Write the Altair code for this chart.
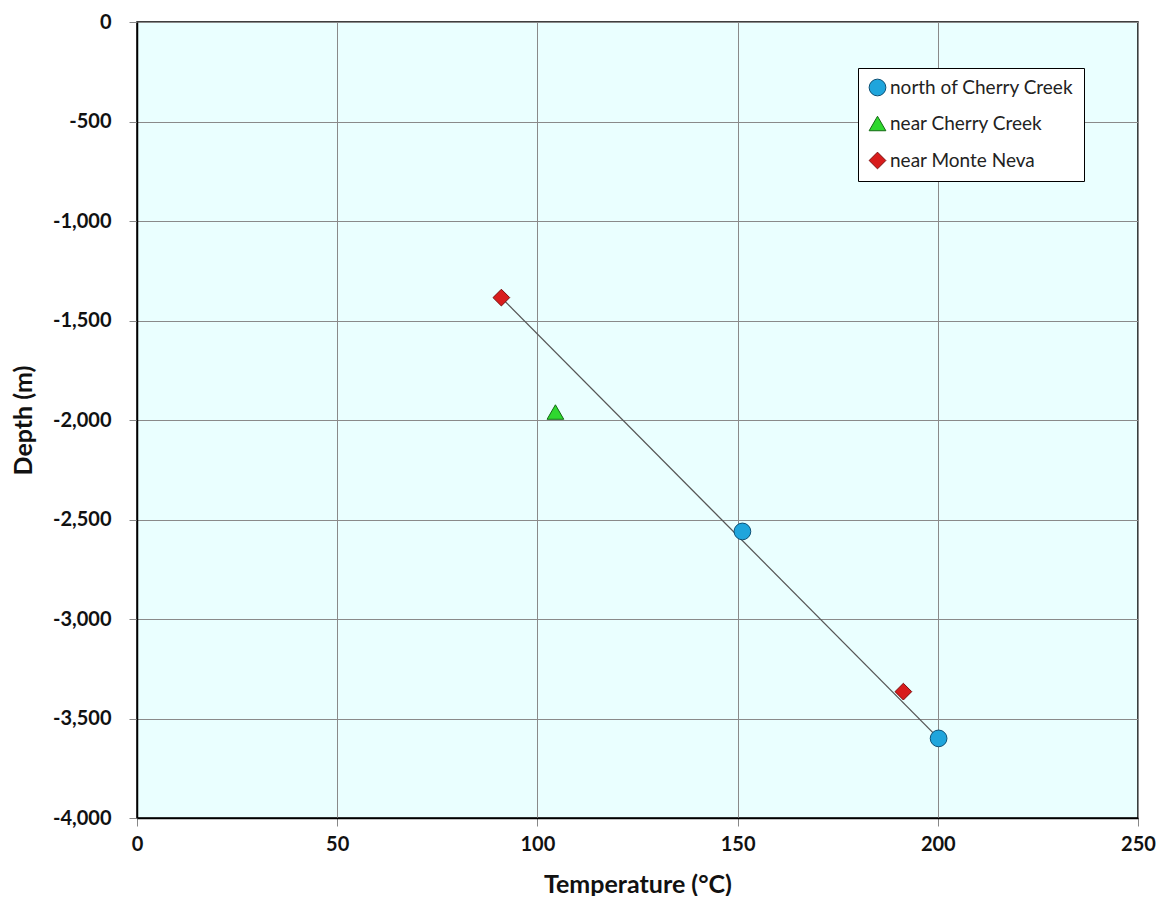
import altair as alt
import pandas as pd

# Data
series = ["north of Cherry Creek", "north of Cherry Creek", "near Cherry Creek", "near Monte Neva", "near Monte Neva"]
temperature = [151.2, 200.2, 104.5, 91.0, 191.4]
depth = [-2560, -3600, -1960, -1385, -3365]

trend_x = [91.0, 200.2]
trend_y = [-1385, -3600]

order = ["north of Cherry Creek", "near Cherry Creek", "near Monte Neva"]
fills = ["#1fa5dc", "#2fd82f", "#d81c1c"]
strokes = ["#0d4f74", "#146a14", "#7a0c0c"]
shapes = ["circle", "triangle-up", "diamond"]

pts = pd.DataFrame({"series": series, "temperature": temperature, "depth": depth})
trend = pd.DataFrame({"temperature": trend_x, "depth": trend_y})

FONT = "Lato"
W, H = 1001, 796

x_scale = alt.Scale(domain=[0, 250], nice=False)
y_scale = alt.Scale(domain=[-4000, 0], nice=False)

x_axis = alt.Axis(
    title="Temperature (°C)", values=[0, 50, 100, 150, 200, 250],
    labelFont=FONT, labelFontSize=20, labelFontWeight="bold", labelColor="#111",
    titleFont=FONT, titleFontSize=25, titleFontWeight="bold", titleColor="#111",
    tickSize=8, tickColor="#888", labelPadding=8, labelFlush=False,
    domainColor="#000", domainWidth=1.5,
    gridColor="#8a8a8a", gridWidth=1,
    titleX=W / 2, titleY=66, titleBaseline="middle", titleAlign="center",
)
y_axis = alt.Axis(
    title="Depth (m)", values=list(range(-4000, 1, 500)),
    labelExpr="replace(format(datum.value, ','), '\u2212', '-')",
    labelFont=FONT, labelFontSize=20, labelFontWeight="bold", labelColor="#111",
    titleFont=FONT, titleFontSize=25, titleFontWeight="bold", titleColor="#111",
    tickSize=8, tickColor="#888", labelPadding=18, labelFlush=False,
    domainColor="#000", domainWidth=1.5,
    gridColor="#8a8a8a", gridWidth=1,
    titleX=-114, titleY=398, titleBaseline="middle", titleAlign="center", titleAngle=270,
)

line = alt.Chart(trend).mark_line(color="#555555", strokeWidth=1.3).encode(
    x=alt.X("temperature:Q", scale=x_scale, axis=x_axis),
    y=alt.Y("depth:Q", scale=y_scale, axis=y_axis),
)

legend = alt.Legend(
    title=None, orient="none", legendX=721, legendY=46,
    labelFont=FONT, labelFontSize=19, labelColor="#222", labelLimit=0,
    symbolSize=170, symbolStrokeWidth=1, rowPadding=16,
    padding=10, fillColor="white", strokeColor="#000",
    labelOffset=3,
)

points = alt.Chart(pts).mark_point(filled=True, opacity=1, strokeWidth=1).encode(
    x=alt.X("temperature:Q", scale=x_scale),
    y=alt.Y("depth:Q", scale=y_scale),
    color=alt.Color("series:N", scale=alt.Scale(domain=order, range=fills), legend=legend),
    shape=alt.Shape("series:N", scale=alt.Scale(domain=order, range=shapes), legend=legend),
    stroke=alt.Stroke("series:N", scale=alt.Scale(domain=order, range=strokes), legend=legend),
    size=alt.Size("series:N", scale=alt.Scale(domain=order, range=[280, 280, 270]), legend=None),
)

chart = (
    alt.layer(line, points)
    .properties(
        width=W, height=H,
        autosize=alt.AutoSizeParams(type="none"),
        padding={"left": 129, "top": 14, "right": 18, "bottom": 78},
        background="white",
    )
    .configure_view(fill="#eaffff", stroke="#000", strokeWidth=1.5)
)

chart.save("out.html", embed_options={"renderer": "svg", "actions": False})
